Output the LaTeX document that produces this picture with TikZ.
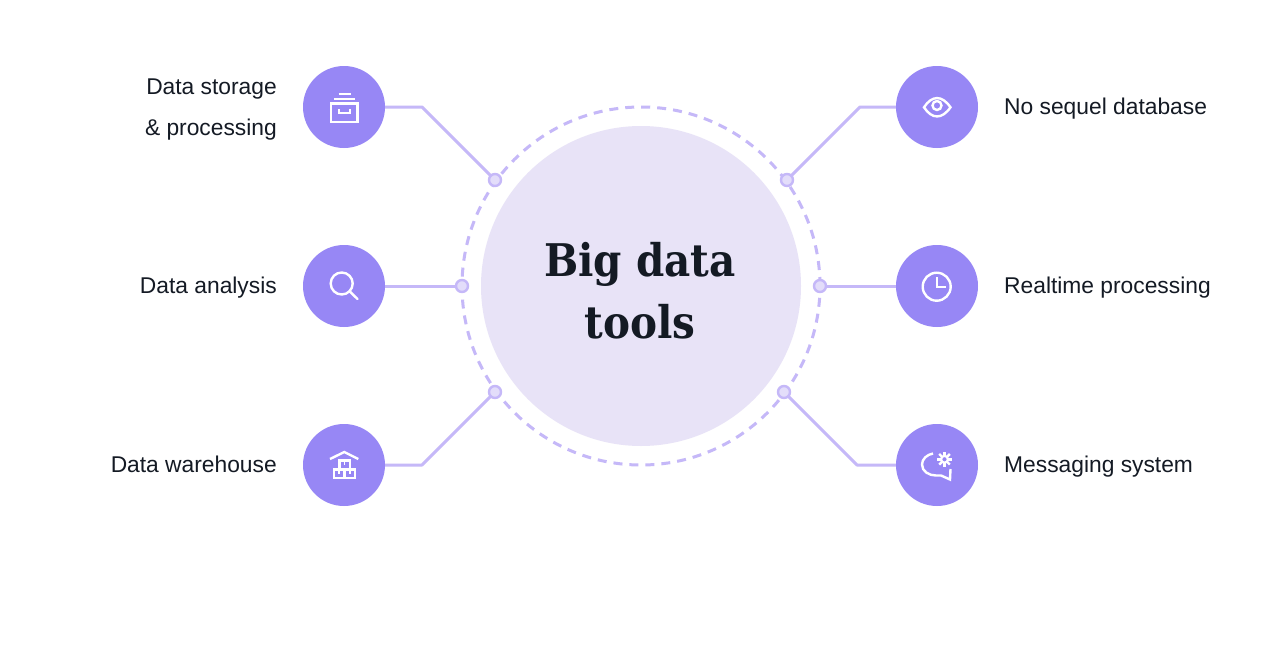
\documentclass[tikz,border=0pt]{standalone}
\usepackage{fontspec}
\setmainfont{Liberation Sans}
\newfontfamily\titlefont{DejaVu Serif Condensed}
\definecolor{inner}{HTML}{E8E3F7}
\definecolor{purp}{HTML}{9787F5}
\definecolor{lin}{HTML}{C5B8F8}
\definecolor{dotf}{HTML}{E3DDFA}
\definecolor{ink}{HTML}{141A24}
\tikzset{
  iconnode/.style={circle,fill=purp,minimum size=82pt,inner sep=0pt},
  port/.style={circle,fill=dotf,draw=lin,line width=2.4pt,minimum size=12pt,inner sep=0pt},
  wire/.style={draw=lin,line width=3pt,line join=round},
  lab/.style={font=\fontsize{22.8}{27}\selectfont,text=ink,inner sep=0pt},
  ico/.style={draw=white,line width=2.4pt,fill=none},
}
\begin{document}
\begin{tikzpicture}[x=1pt,y=-1pt]
\useasboundingbox (0,0) rectangle (1280,648);
\fill[white] (0,0) rectangle (1280,648);
\node[circle,fill=inner,minimum size=320pt,inner sep=0pt] (hub) at (641,286) {};
\node[circle,draw=lin,line width=3pt,dash pattern=on 9pt off 7pt,minimum size=358pt,inner sep=0pt] (ring) at (641,286) {};
\node[font=\titlefont\bfseries\fontsize{45}{62}\selectfont,text=ink,align=center,inner sep=0pt] (title) at (640,291) {Big data\\tools};
\node[iconnode] (a) at (344,107) {};
\node[iconnode] (b) at (344,286) {};
\node[iconnode] (c) at (344,465) {};
\node[iconnode] (d) at (937,107) {};
\node[iconnode] (e) at (937,286) {};
\node[iconnode] (f) at (937,465) {};
\coordinate (ka) at (422,107);
\coordinate (kc) at (422,465);
\coordinate (kd) at (860,107);
\coordinate (kf) at (857,465);
\coordinate (pa0) at (495,180);
\coordinate (pb0) at (462,286);
\coordinate (pc0) at (495,392);
\coordinate (pd0) at (787,180);
\coordinate (pe0) at (820,286);
\coordinate (pf0) at (784,392);
\draw[wire] (a) -- (ka) -- (pa0);
\draw[wire] (b) -- (pb0);
\draw[wire] (c) -- (kc) -- (pc0);
\draw[wire] (d) -- (kd) -- (pd0);
\draw[wire] (e) -- (pe0);
\draw[wire] (f) -- (kf) -- (pf0);
\node[port] (pa) at (pa0) {};
\node[port] (pb) at (pb0) {};
\node[port] (pc) at (pc0) {};
\node[port] (pd) at (pd0) {};
\node[port] (pe) at (pe0) {};
\node[port] (pf) at (pf0) {};
\node[lab,anchor=base east] (la) at (277,94.5) {Data storage};
\node[lab,anchor=base east] (la2) at (277,135.5) {\& processing};
\node[lab,anchor=base east] (lb) at (277,293.5) {Data analysis};
\node[lab,anchor=base east] (lc) at (277,472.5) {Data warehouse};
\node[lab,anchor=base west] (ld) at (1004,114.5) {No sequel database};
\node[lab,anchor=base west] (le) at (1004,293.5) {Realtime processing};
\node[lab,anchor=base west] (lf) at (1004,472.5) {Messaging system};
% archive icon
\draw[ico] (331,103.5) rectangle (357.5,122);
\draw[ico] (334,99) -- (355,99);
\draw[ico] (338.5,94) -- (351,94);
\draw[ico] (339,109) -- (339,113) -- (350,113) -- (350,109);
% magnifier
\draw[ico] (341.7,283.5) circle (11);
\draw[ico,line cap=round] (350,291.7) -- (357.5,299);
% warehouse
\draw[ico] (330,459) -- (344.3,452) -- (358.3,459);
\draw[ico] (334,469.5) rectangle (355,478);
\draw[ico] (339.5,460.5) rectangle (350,469.5);
\draw[ico] (344.5,469.5) -- (344.5,478);
\draw[white,line width=1.8pt] (344.5,461) -- (344.5,465);
\draw[white,line width=1.8pt] (339,470) -- (339,474);
\draw[white,line width=1.8pt] (350,470) -- (350,474);
% eye
\draw[ico] (924,107.3) .. controls (932,95) and (942,95) .. (950.5,107.3) .. controls (942,119.5) and (932,119.5) .. (924,107.3) -- cycle;
\draw[ico] (937,105.5) circle (4.5);
% clock
\draw[ico] (936.7,286.7) circle (14);
\draw[ico] (936.7,277) -- (936.7,286.7) -- (946,286.7);
% chat + gear
\draw[ico] (933,453.5) .. controls (927,454.5) and (922,459) .. (922,464.5) .. controls (922,471.5) and (929,475.5) .. (936,475.5) -- (941,475.5) -- (950,479.5) -- (950.5,469);
\foreach \t in {0,45,...,315}{\draw[white,line width=2.4pt] (944.5,459.3) ++(\t:3) -- ++(\t:4.5);}
\draw[white,line width=2.2pt] (944.5,459.3) circle (3.4);
\end{tikzpicture}
\end{document}
